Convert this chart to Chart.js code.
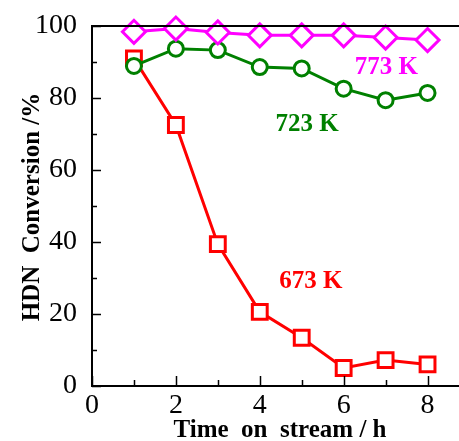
<!DOCTYPE html>
<html>
<head>
<meta charset="utf-8">
<script src="https://cdn.jsdelivr.net/npm/chart.js@4.4.1/dist/chart.umd.min.js"></script>
<style>
  html, body { margin: 0; padding: 0; background: #fff; }
</style>
</head>
<body>
<canvas id="chart" width="459" height="441"></canvas>
<script>
const hours = [1, 2, 3, 4, 5, 6, 7, 8];
const conv773 = [98.4, 99.3, 98.2, 97.4, 97.4, 97.4, 96.8, 96.1];
const conv723 = [88.9, 93.7, 93.3, 88.6, 88.2, 82.6, 79.4, 81.4];
const conv673 = [91.0, 72.5, 39.4, 20.6, 13.4, 5.0, 7.2, 6.0];
const seriesNames = ["773 K", "723 K", "673 K"];
const labelX = [7.02, 5.13, 5.22];
const labelY = [88.4, 72.6, 28.9];
const xTicks = [0, 1, 2, 3, 4, 5, 6, 7, 8];
const yTicks = [0, 10, 20, 30, 40, 50, 60, 70, 80, 90, 100];

const FONT = "'Liberation Serif', 'Times New Roman', serif";
const colors = ["#ff00ff", "#008000", "#ff0000"];
const shapes = ["rectRot", "circle", "rect"];
const radii = [11.5, 7.5, 10.5];

function toPoints(ys) {
    return hours.map((h, i) => ({x: h, y: ys[i]}));
}

// inner ticks, top frame line, axis titles and series labels
const decorations = {
    id: "decorations",
    afterDraw: (chart) => {
        const {ctx, chartArea: {left, right, top, bottom}, scales: {x, y}} = chart;
        ctx.save();
        ctx.strokeStyle = "#000";
        ctx.lineWidth = 2;
        ctx.beginPath();
        ctx.moveTo(left - 1, top);
        ctx.lineTo(right, top);
        ctx.stroke();

        ctx.lineWidth = 1.5;
        ctx.beginPath();
        yTicks.forEach(v => {
            const py = Math.round(y.getPixelForValue(v)) + 0.5;
            const len = v % 20 === 0 ? 9 : 5;
            ctx.moveTo(left, py);
            ctx.lineTo(left + len, py);
        });
        xTicks.forEach(v => {
            const px = Math.round(x.getPixelForValue(v)) + 0.5;
            const len = v % 2 === 0 ? 10 : 6;
            ctx.moveTo(px, bottom);
            ctx.lineTo(px, bottom - len);
        });
        ctx.stroke();

        ctx.fillStyle = "#000";
        ctx.font = "bold 25px " + FONT;
        ctx.textAlign = "center";
        ctx.textBaseline = "middle";
        ctx.fillText("Time  on  stream / h", 280, 431);

        ctx.save();
        ctx.translate(33, 207);
        ctx.rotate(-Math.PI / 2);
        ctx.fillText("HDN  Conversion /%", 0, 0);
        ctx.restore();

        seriesNames.forEach((name, i) => {
            ctx.fillStyle = colors[i];
            ctx.fillText(name, x.getPixelForValue(labelX[i]), y.getPixelForValue(labelY[i]));
        });
        ctx.restore();
    }
};

new Chart(document.getElementById("chart").getContext("2d"), {
    type: "line",
    data: {
        datasets: [conv773, conv723, conv673].map((ys, i) => ({
            label: seriesNames[i],
            data: toPoints(ys),
            borderColor: colors[i],
            backgroundColor: "#fff",
            borderWidth: 3,
            pointStyle: shapes[i],
            pointRadius: radii[i],
            pointBorderWidth: 3,
            pointBackgroundColor: "#fff",
            pointBorderColor: colors[i],
            tension: 0,
            clip: false
        }))
    },
    options: {
        responsive: false,
        animation: false,
        layout: {autoPadding: false, padding: {left: 0, top: 26, right: 0, bottom: 0}},
        plugins: {legend: {display: false}, tooltip: {enabled: false}},
        scales: {
            x: {
                type: "linear",
                min: 0,
                max: 8.75,
                afterBuildTicks: (s) => { s.ticks = xTicks.map(v => ({value: v})); },
                afterFit: (s) => { s.height = 55; s.paddingLeft = 0; s.paddingRight = 0; },
                grid: {display: false},
                border: {display: true, color: "#000", width: 2},
                ticks: {
                    autoSkip: false,
                    maxRotation: 0,
                    padding: -5,
                    color: "#000",
                    font: {family: FONT, size: 28},
                    callback: (v) => v % 2 === 0 ? String(v) : ""
                }
            },
            y: {
                min: 0,
                max: 100,
                afterBuildTicks: (s) => { s.ticks = yTicks.map(v => ({value: v})); },
                afterFit: (s) => { s.width = 92; s.paddingTop = 0; s.paddingBottom = 0; },
                grid: {display: false},
                border: {display: true, color: "#000", width: 2},
                ticks: {
                    autoSkip: false,
                    padding: 7,
                    color: "#000",
                    font: {family: FONT, size: 28},
                    callback: (v) => v % 20 === 0 ? String(v) : ""
                }
            }
        }
    },
    plugins: [decorations]
});
</script>
</body>
</html>
